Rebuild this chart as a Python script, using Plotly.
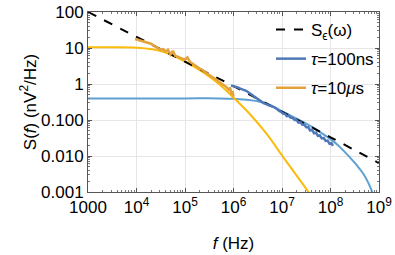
import numpy as np
import plotly.graph_objects as go

# ---- data (log10 frequency in Hz, log10 S in nV^2/Hz) ----
se_logf = [3.0, 4.0, 5.0, 6.0, 7.0, 8.0, 9.0]
se_logv = [2.0, 1.31, 0.62, -0.06, -0.77, -1.48, -2.2]

fit100_logf = [3.0, 4.0, 5.0, 5.7, 6.0, 6.27, 6.5, 6.68, 6.85, 6.96, 7.17, 7.37, 7.58, 7.78, 8.05, 8.2, 8.4, 8.55, 8.67, 8.77, 8.86]
fit100_logv = [-0.40, -0.40, -0.40, -0.40, -0.41, -0.44, -0.48, -0.55, -0.65, -0.73, -0.87, -1.01, -1.16, -1.33, -1.58, -1.76, -2.04, -2.27, -2.48, -2.72, -3.0]

fit10_logf = [3.0, 3.5, 4.0, 4.3, 4.6, 5.0, 5.4, 5.7, 6.0, 6.34, 6.68, 7.02, 7.37, 7.6]
fit10_logv = [1.02, 1.02, 1.01, 0.97, 0.87, 0.62, 0.30, 0.0, -0.38, -0.84, -1.38, -2.02, -2.67, -3.1]

data100_logf = [5.95, 5.98, 6.02, 6.06, 6.10, 6.14, 6.18, 6.22, 6.26, 6.30, 6.34, 6.38, 6.42, 6.46, 6.50,
                6.54, 6.58, 6.62, 6.66, 6.70, 6.74, 6.78, 6.82, 6.86, 6.90, 6.94, 6.98, 7.02, 7.06, 7.10,
                7.14, 7.18, 7.22, 7.26, 7.30, 7.34, 7.38, 7.42, 7.46, 7.50, 7.54, 7.58, 7.62, 7.66, 7.70,
                7.74, 7.78, 7.82, 7.86, 7.90, 7.94, 7.98, 8.02, 8.05]
data100_logv = [-0.04, -0.05, -0.08, -0.09, -0.10, -0.13, -0.14, -0.17, -0.19, -0.22, -0.26, -0.30, -0.34, -0.38, -0.42,
                -0.46, -0.50, -0.53, -0.55, -0.58, -0.60, -0.61, -0.63, -0.66, -0.70, -0.75, -0.77, -0.82, -0.83, -0.89,
                -0.88, -0.94, -0.94, -1.00, -1.00, -1.07, -1.06, -1.13, -1.13, -1.20, -1.20, -1.29, -1.27, -1.37, -1.35,
                -1.44, -1.43, -1.51, -1.50, -1.58, -1.57, -1.66, -1.64, -1.72]

data10_logf = [3.97, 4.05, 4.15, 4.25, 4.30, 4.38, 4.45, 4.50, 4.55, 4.60, 4.65, 4.70, 4.75, 4.80, 4.85,
               4.90, 4.95, 5.00, 5.05, 5.10, 5.15, 5.20, 5.25, 5.30, 5.35, 5.40, 5.45, 5.50, 5.55, 5.60,
               5.65, 5.70, 5.75, 5.80, 5.85, 5.90, 5.93, 5.96, 5.98, 6.00]
data10_logv = [1.25, 1.22, 1.18, 1.13, 1.12, 1.05, 0.98, 0.95, 0.97, 0.90, 0.95, 0.82, 0.92, 0.78, 0.76,
               0.72, 0.70, 0.68, 0.74, 0.62, 0.57, 0.52, 0.47, 0.43, 0.40, 0.36, 0.30, 0.25, 0.21, 0.16,
               0.12, 0.06, 0.02, -0.04, -0.08, -0.16, -0.10, -0.30, -0.20, -0.35]

x_tickvals = [1e3, 1e4, 1e5, 1e6, 1e7, 1e8, 1e9]
x_ticktext = ["1000", "10<sup>4</sup>", "10<sup>5</sup>", "10<sup>6</sup>", "10<sup>7</sup>", "10<sup>8</sup>", "10<sup>9</sup>"]
y_tickvals = [0.001, 0.01, 0.1, 1, 10, 100]
y_ticktext = ["0.001", "0.010", "0.100", "1", "10", "100"]

p = lambda a: np.power(10.0, np.array(a))

FONT = "Liberation Sans, Arial, sans-serif"
C_FIT100 = "#5fa0d2"
C_DATA100 = "#4f78b8"
C_FIT10 = "#fbbb0a"
C_DATA10 = "#e3a23a"

fig = go.Figure()
fig.add_trace(go.Scatter(x=p(fit100_logf), y=p(fit100_logv), mode="lines", line=dict(color=C_FIT100, width=2, shape="spline"), showlegend=False))
fig.add_trace(go.Scatter(x=p(fit10_logf), y=p(fit10_logv), mode="lines", line=dict(color=C_FIT10, width=2, shape="spline"), showlegend=False))
fig.add_trace(go.Scatter(x=p(se_logf), y=p(se_logv), mode="lines", name="S<sub>ϵ</sub>(ω)", legendgroup="a",
                         line=dict(color="black", width=2, dash="dash", shape="spline")))
fig.add_trace(go.Scatter(x=p(data100_logf), y=p(data100_logv), mode="lines", name="<i>τ</i>=100ns", legendgroup="b",
                         line=dict(color=C_DATA100, width=2.5)))
fig.add_trace(go.Scatter(x=p(data10_logf), y=p(data10_logv), mode="lines", name="<i>τ</i>=10<i>μ</i>s", legendgroup="c",
                         line=dict(color=C_DATA10, width=2.5)))

minor_x = [m * 10**e for e in range(3, 9) for m in range(2, 10)]
minor_y = [m * 10.0**e for e in range(-3, 2) for m in range(2, 10)]

axis_common = dict(showline=True, linecolor="#555", linewidth=1, mirror="ticks", ticks="inside", ticklen=4,
                   tickcolor="#555", showgrid=True, gridcolor="#e6e6e6", gridwidth=1, zeroline=False,
                   automargin=False, ticklabeloverflow="allow",
                   tickfont=dict(family=FONT, size=17, color="black"))
fig.update_xaxes(type="log", range=[3, 9], tickmode="array", tickvals=x_tickvals, ticktext=x_ticktext,
                 title=dict(text="<i>f</i> (Hz)", font=dict(family=FONT, size=17, color="black"), standoff=20),
                 minor=dict(tickmode="array", tickvals=minor_x, ticks="inside", ticklen=2, tickcolor="#777", showgrid=False),
                 **axis_common)
fig.update_yaxes(type="log", range=[-3, 2], tickmode="array", tickvals=y_tickvals, ticktext=y_ticktext,
                 title=dict(text="S(<i>f</i>) (nV<sup>2</sup>/Hz)", font=dict(family=FONT, size=17, color="black"), standoff=0),
                 minor=dict(tickmode="array", tickvals=minor_y, ticks="inside", ticklen=2, tickcolor="#777", showgrid=False),
                 **axis_common)

fig.update_layout(width=395, height=255, margin=dict(l=88, r=16, t=12, b=63),
                  paper_bgcolor="white", plot_bgcolor="white",
                  font=dict(family=FONT, size=17, color="black"),
                  legend=dict(x=1.0, xanchor="right", y=1.0, yanchor="top", bgcolor="rgba(255,255,255,0)",
                              borderwidth=0, font=dict(family=FONT, size=17), traceorder="grouped",
                              tracegroupgap=4, itemwidth=30))
fig.write_html("out.html", config={"displayModeBar": False},
               post_script="document.body.style.margin='0';")
